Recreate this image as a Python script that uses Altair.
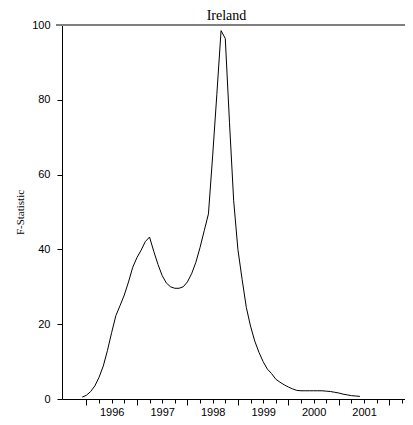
import altair as alt
import pandas as pd

# Monthly F-statistic, starting December 1995
start_year = 1995
start_month = 12
f_stat = [
    0.5, 1.0, 2.0, 3.5, 5.8, 8.8, 13.0, 17.8, 22.3, 25.0,
    27.8, 31.3, 35.2, 37.8, 39.8, 42.1, 43.3, 39.5, 36.0, 33.0,
    31.0, 30.0, 29.6, 29.6, 30.0, 31.3, 33.5, 36.5, 40.5, 45.0,
    49.5, 65.0, 81.5, 98.5, 96.4, 74.0, 53.0, 40.0, 32.0, 24.5,
    19.5, 15.5, 12.5, 10.0, 8.0, 6.8, 5.3, 4.5, 3.8, 3.2,
    2.7, 2.3, 2.2, 2.2, 2.2, 2.2, 2.2, 2.2, 2.1, 2.0,
    1.8, 1.6, 1.3, 1.1, 0.9, 0.8, 0.7,
]

year_ticks = [1996, 1997, 1998, 1999, 2000, 2001, 2002]
quarter_ticks = [1996.25, 1996.5, 1996.75, 1997.25, 1997.5, 1997.75,
                 1998.25, 1998.5, 1998.75, 1999.25, 1999.5, 1999.75,
                 2000.25, 2000.5, 2000.75, 2001.25, 2001.5, 2001.75,
                 2002.25]
label_positions = [1996.5, 1997.5, 1998.5, 1999.5, 2000.5, 2001.5]
y_ticks = [0, 20, 40, 60, 80, 100]

x_domain = [1995.516, 2002.31]

df = pd.DataFrame({
    "t": [start_year + (start_month - 1 + i) / 12 for i in range(len(f_stat))],
    "F": f_stat,
})

W, H = 343, 374
xscale = alt.Scale(domain=x_domain, nice=False, zero=False)
yscale = alt.Scale(domain=[0, 100], nice=False)

base = alt.Chart(df)

line = base.mark_line(color="black", strokeWidth=1).encode(
    x=alt.X("t:Q", scale=xscale,
            axis=alt.Axis(orient="bottom", values=year_ticks, tickSize=6, labels=False,
                          title=None, grid=False, domainColor="black", tickColor="black")),
    y=alt.Y("F:Q", scale=yscale,
            axis=alt.Axis(orient="left", values=y_ticks, tickSize=5, labelPadding=7,
                          grid=False, domainColor="black", tickColor="black",
                          labelFont="Liberation Sans", labelFontSize=11, labelColor="black",
                          title="F-Statistic", titleFont="Liberation Serif",
                          titleFontSize=11, titleFontWeight="normal", titleColor="black",
                          titleAngle=270, titleX=-42, titleY=187,
                          titleAlign="center", titleBaseline="middle")),
)

quarters = base.mark_line(opacity=0).encode(
    x=alt.X("t:Q", scale=xscale,
            axis=alt.Axis(orient="bottom", values=quarter_ticks, tickSize=4, labels=False,
                          title=None, grid=False, domain=False, tickColor="black")),
    y=alt.Y("F:Q", scale=yscale, axis=None),
)

labels = base.mark_line(opacity=0).encode(
    x=alt.X("t:Q", scale=xscale,
            axis=alt.Axis(orient="bottom", values=label_positions, ticks=False, tickSize=0,
                          labelPadding=7, labelExpr="'' + floor(datum.value)", title=None,
                          grid=False, domain=False, labelFont="Liberation Sans",
                          labelFontSize=11, labelColor="black", labelOverlap=False,
                          labelFlush=False)),
    y=alt.Y("F:Q", scale=yscale, axis=None),
)

top_rule = base.mark_rule(color="#808080", strokeWidth=1.5).encode(
    x=alt.value(-6), x2=alt.value(W), y=alt.value(0)
)

chart = alt.layer(line, quarters, labels, top_rule).resolve_axis(
    x="independent", y="independent"
).properties(
    width=W, height=H,
    title=alt.Title("Ireland", font="Liberation Serif", fontSize=14,
                    fontWeight="normal", color="black", anchor="middle",
                    dx=-7, dy=4, offset=0),
    autosize=alt.AutoSizeParams(type="none"),
    padding={"left": 54, "top": 17, "right": 0, "bottom": 18},
).configure_view(stroke=None)

chart.save("out.html", embed_options={"renderer": "svg", "actions": False})
